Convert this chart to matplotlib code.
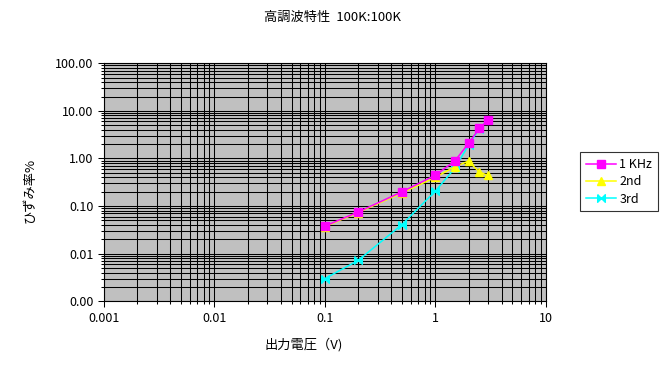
#-*- coding: utf-8 -*-
# harmonic distortion chart, log-log
import matplotlib as mpl
mpl.use('Agg')
import matplotlib.pyplot as plt
import matplotlib.ticker as mtick
import numpy as np

mpl.rcParams['font.family'] = ['Noto Sans CJK JP', 'DejaVu Sans']
mpl.rcParams['font.size'] = 9

# data
volts = [0.1, 0.2, 0.5, 1.0, 1.5, 2.0, 2.5, 3.0]
thd_1k = [0.038, 0.075, 0.20, 0.445, 0.88, 2.07, 4.27, 6.35]
h2nd = [0.037, 0.073, 0.19, 0.40, 0.67, 0.88, 0.52, 0.44]
h3rd = [0.003, 0.0072, 0.041, 0.206, 0.62, 1.90, 4.20, 6.30]
series_names = ['1 KHz', '2nd', '3rd']
xtick_vals = [0.001, 0.01, 0.1, 1, 10]
ytick_vals = [0.001, 0.01, 0.1, 1, 10, 100]

bowtie = [(-1, 1), (1, -1), (1, 1), (-1, -1), (-1, 1)]

fig = plt.figure(figsize=(6.65, 3.69), dpi=100)
ax = fig.add_axes([0.1564, 0.1835, 0.8206 - 0.1564, 0.8285 - 0.1835])
ax.set_facecolor('#C0C0C0')

ax.set_xscale('log')
ax.set_yscale('log')
ax.set_xlim(0.001, 10)
ax.set_ylim(0.001, 100)

ax.plot(volts, h3rd, color='#00FFFF', lw=1.1, marker=bowtie, ms=5.5,
        mfc='#00FFFF', mec='#00FFFF', zorder=3, label=series_names[2])
ax.plot(volts, h2nd, color='#FFFF00', lw=1.1, marker='^', ms=5.5,
        mfc='#FFFF00', mec='#FFFF00', zorder=4, label=series_names[1])
ax.plot(volts, thd_1k, color='#FF00FF', lw=1.1, marker='s', ms=5.5,
        mfc='#FF00FF', mec='#FF00FF', zorder=5, label=series_names[0])

# dense excel-like grid
ax.xaxis.set_major_locator(mtick.FixedLocator(xtick_vals))
ax.yaxis.set_major_locator(mtick.FixedLocator(ytick_vals))
ax.xaxis.set_minor_locator(mtick.LogLocator(base=10, subs=np.arange(2, 10), numticks=20))
ax.yaxis.set_minor_locator(mtick.LogLocator(base=10, subs=np.arange(2, 10), numticks=20))
ax.xaxis.set_minor_formatter(mtick.NullFormatter())
ax.yaxis.set_minor_formatter(mtick.NullFormatter())
ax.xaxis.set_major_formatter(mtick.FuncFormatter(lambda v, p: '%g' % v))
ax.yaxis.set_major_formatter(mtick.FormatStrFormatter('%.2f'))
ax.grid(which='both', color='black', linewidth=0.75)
ax.set_axisbelow(True)

ax.tick_params(which='major', direction='out', length=4, width=0.75, color='black', labelsize=9)
ax.tick_params(which='minor', direction='out', length=2, width=0.75, color='black')
for s in ax.spines.values():
    s.set_color('black')
    s.set_linewidth(0.8)

fig.text(0.5, 0.952, '高調波特性  100K:100K', ha='center', va='center', fontsize=9.5)
fig.text(0.456, 0.065, '出力電圧（V)', ha='center', va='center', fontsize=9.5)
fig.text(0.046, 0.485, 'ひずみ率%', ha='center', va='center', rotation=90, fontsize=9.5)

handles, labels = ax.get_legend_handles_labels()
leg = fig.legend(handles[::-1], labels[::-1], loc='upper left', bbox_to_anchor=(0.872, 0.587),
                 frameon=True, fancybox=False, fontsize=9, handlelength=2.4,
                 borderpad=0.45, labelspacing=0.35, handletextpad=0.3, borderaxespad=0)
leg.get_frame().set_edgecolor('black')
leg.get_frame().set_linewidth(0.8)

plt.savefig('out.png', dpi=100)
